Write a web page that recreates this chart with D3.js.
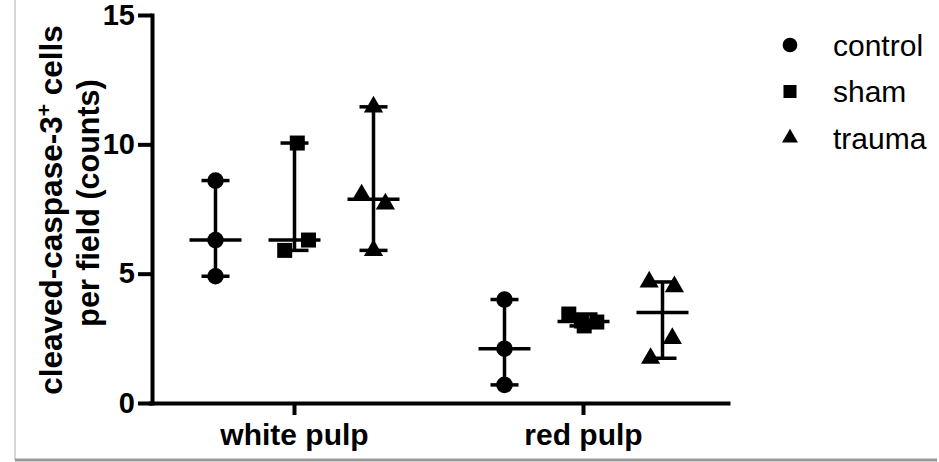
<!DOCTYPE html>
<html>
<head>
<meta charset="utf-8">
<script src="https://cdnjs.cloudflare.com/ajax/libs/d3/7.8.5/d3.min.js"></script>
<style>
  body { margin: 0; background: #fff; }
  svg { display: block; font-family: "Liberation Sans", Arial, sans-serif; }
</style>
</head>
<body>
<div id="chart"></div>
<script>
// data
const categories = ["white pulp", "red pulp"];
const groups = ["control", "sham", "trauma"];
const yTicks = [0, 5, 10, 15];

// values per category [white pulp, red pulp]
const controlValues = [[8.6, 6.3, 4.9], [4.0, 2.1, 0.7]];
const shamValues = [[10.05, 6.3, 5.9], [3.44, 3.17, 2.98, 3.13]];
const traumaValues = [[11.45, 8.05, 7.7, 5.9], [4.68, 4.5, 2.5, 1.73]];

// horizontal scatter slot of each point (as drawn by the original software)
const controlSpread = [[0, 0, 0], [0, 0, 0]];
const shamSpread = [[0.2, 1, -0.7], [-1.05, -0.15, 0.05, 0.95]];
const traumaSpread = [[0, -0.85, 0.85, 0], [-0.95, 0.85, 0.7, -0.85]];

const valuesByGroup = { control: controlValues, sham: shamValues, trauma: traumaValues };
const spreadByGroup = { control: controlSpread, sham: shamSpread, trauma: traumaSpread };

const width = 939, height = 462;

const svg = d3.select("#chart").append("svg")
    .attr("width", width)
    .attr("height", height);

// frame shadow
svg.append("line")
    .attr("x1", 15).attr("x2", 15).attr("y1", 0).attr("y2", 460)
    .attr("stroke", "#d6d6d6").attr("stroke-width", 2);
svg.append("line")
    .attr("x1", 15).attr("x2", 937).attr("y1", 460).attr("y2", 460)
    .attr("stroke", "#9a9a9a").attr("stroke-width", 3);

const y = d3.scaleLinear().domain([0, 15]).range([403, 15]);
const x = d3.scaleBand().domain(categories).range([150, 728]);
const xg = d3.scalePoint().domain(groups).range([-79, 79]);
const spreadUnit = 14;

const symbols = { control: d3.symbolCircle, sham: d3.symbolSquare, trauma: d3.symbolTriangle };
const symbolSize = { control: 215, sham: 225, trauma: 160 };

// build flat tables
const stats = [];
const points = [];
categories.forEach((c, ci) => {
    groups.forEach(g => {
        const vals = valuesByGroup[g][ci];
        const ext = d3.extent(vals);
        stats.push({ cat: c, group: g, median: d3.median(vals), min: ext[0], max: ext[1] });
        vals.forEach((v, i) => {
            points.push({ cat: c, group: g, value: v, spread: spreadByGroup[g][ci][i] });
        });
    });
});

const cx = d => x(d.cat) + x.bandwidth() / 2 + xg(d.group);

// y axis
const yAxis = svg.append("g")
    .attr("transform", "translate(152,0)")
    .call(d3.axisLeft(y).tickValues(yTicks).tickSize(14).tickSizeOuter(0).tickPadding(3));
yAxis.select(".domain").attr("stroke-width", 4).attr("stroke-linecap", "square");
yAxis.selectAll(".tick line").attr("stroke-width", 4);
yAxis.selectAll(".tick text")
    .style("font-size", "29px").style("font-weight", "bold").attr("fill", "#000");

// x axis
const xAxis = svg.append("g")
    .attr("transform", "translate(0,403)")
    .call(d3.axisBottom(x).tickSize(12).tickSizeOuter(0).tickPadding(9));
xAxis.select(".domain").attr("stroke-width", 4).attr("stroke-linecap", "square");
xAxis.selectAll(".tick line").attr("stroke-width", 4);
xAxis.selectAll(".tick text")
    .style("font-size", "30px").style("font-weight", "bold").attr("fill", "#000");

// y axis title
const yTitle = svg.append("text")
    .attr("transform", "translate(62,210) rotate(-90)")
    .attr("text-anchor", "middle")
    .style("font-size", "31.5px").style("font-weight", "bold");
yTitle.append("tspan").text("cleaved-caspase-3");
yTitle.append("tspan").attr("dy", "-11").style("font-size", "21px").text("+");
yTitle.append("tspan").attr("dy", "11").text(" cells");
svg.append("text")
    .attr("transform", "translate(99,203) rotate(-90)")
    .attr("text-anchor", "middle")
    .style("font-size", "30.5px").style("font-weight", "bold")
    .text("per field (counts)");

// median with range
const sw = 3.5;
const ranges = svg.append("g").attr("stroke", "#000").attr("stroke-width", sw);
ranges.selectAll(".whisker")
    .data(stats).join("line")
    .attr("class", "whisker")
    .attr("x1", cx).attr("x2", cx)
    .attr("y1", d => y(d.max)).attr("y2", d => y(d.min));
ranges.selectAll(".cap-top")
    .data(stats).join("line")
    .attr("class", "cap-top")
    .attr("x1", d => cx(d) - 14).attr("x2", d => cx(d) + 14)
    .attr("y1", d => y(d.max)).attr("y2", d => y(d.max));
ranges.selectAll(".cap-bottom")
    .data(stats).join("line")
    .attr("class", "cap-bottom")
    .attr("x1", d => cx(d) - 14).attr("x2", d => cx(d) + 14)
    .attr("y1", d => y(d.min)).attr("y2", d => y(d.min));
ranges.selectAll(".median")
    .data(stats).join("line")
    .attr("class", "median")
    .attr("x1", d => cx(d) - 26).attr("x2", d => cx(d) + 26)
    .attr("y1", d => y(d.median)).attr("y2", d => y(d.median));

// points
svg.append("g").selectAll("path")
    .data(points).join("path")
    .attr("transform", d => "translate(" + (cx(d) + d.spread * spreadUnit) + "," + y(d.value) + ")")
    .attr("d", d => d3.symbol().type(symbols[d.group]).size(symbolSize[d.group])())
    .attr("fill", "#000");

// legend
const legend = svg.append("g").selectAll("g")
    .data(groups).join("g")
    .attr("transform", (d, i) => "translate(790," + (45 + i * 46.5) + ")");
legend.append("path")
    .attr("d", d => d3.symbol().type(symbols[d]).size(d === "trauma" ? 110 : 170)())
    .attr("fill", "#000");
legend.append("text")
    .attr("x", 43).attr("dy", "0.35em")
    .style("font-size", "30px")
    .text(d => d);
</script>
</body>
</html>
